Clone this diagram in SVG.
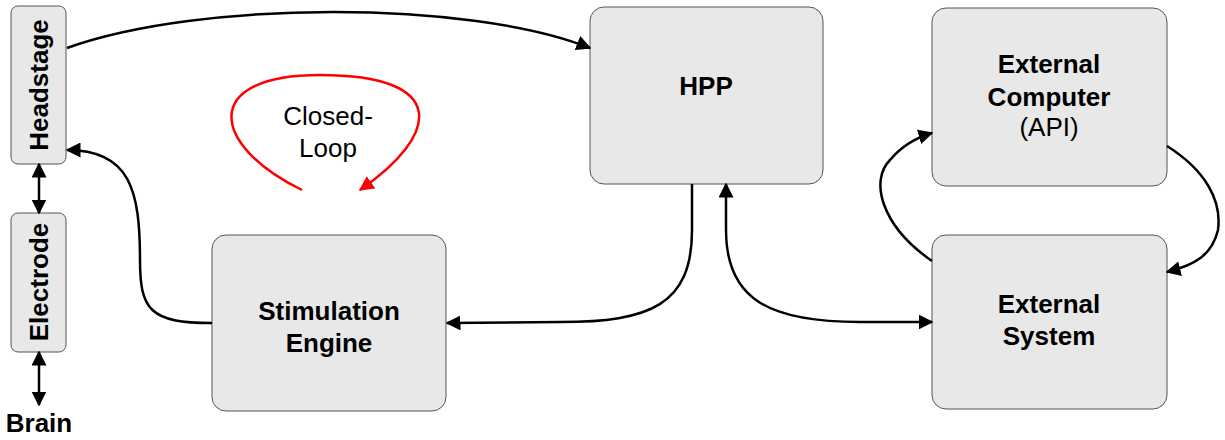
<svg xmlns="http://www.w3.org/2000/svg" width="1225" height="440" viewBox="0 0 1225 440">
<style>
.box{fill:#e8e8e8;stroke:#555;stroke-width:1}
.b{font-family:"Liberation Sans",Arial,sans-serif;font-weight:bold;font-size:26px;fill:#000;text-anchor:middle}
.n{font-family:"Liberation Sans",Arial,sans-serif;font-size:26px;fill:#000;text-anchor:middle}
.c{fill:none;stroke:#000;stroke-width:2.5}
.r{fill:none;stroke:#f00;stroke-width:2.5}
</style>
<defs>
<marker id="a" viewBox="0 0 10 10" refX="9" refY="5" markerWidth="6" markerHeight="6" markerUnits="strokeWidth" orient="auto-start-reverse"><path d="M0,0 L10,5 L0,10 z" fill="#000"/></marker>
<marker id="ar" viewBox="0 0 10 10" refX="9" refY="5" markerWidth="6" markerHeight="6" markerUnits="strokeWidth" orient="auto"><path d="M0,0 L10,5 L0,10 z" fill="#f00"/></marker>
</defs>
<g id="headstage"><rect class="box" x="11" y="6" width="55" height="158" rx="7"/><text class="b" transform="translate(48,85) rotate(-90)">Headstage</text></g>
<g id="electrode"><rect class="box" x="11" y="213" width="55" height="139" rx="7"/><text class="b" transform="translate(48,282) rotate(-90)">Electrode</text></g>
<g id="brain"><text class="b" x="39" y="432">Brain</text></g>
<g id="hpp"><rect class="box" x="590" y="7" width="233" height="177" rx="14"/><text class="b" x="706" y="95">HPP</text></g>
<g id="extcomp"><rect class="box" x="932" y="8" width="235" height="178" rx="14"/><text class="b" x="1049" y="73">External</text><text class="b" x="1049" y="106">Computer</text><text class="n" x="1049" y="136">(API)</text></g>
<g id="extsys"><rect class="box" x="932" y="235" width="235" height="174" rx="14"/><text class="b" x="1049" y="313">External</text><text class="b" x="1049" y="345">System</text></g>
<g id="stim"><rect class="box" x="212" y="235" width="234" height="176" rx="14"/><text class="b" x="329" y="320">Stimulation</text><text class="b" x="329" y="352">Engine</text></g>
<g id="closedloop"><text class="n" x="328" y="125">Closed-</text><text class="n" x="328" y="157">Loop</text></g>
<g id="connectors">
<path class="c" d="M67,48 C200,0 470,0 590,48" marker-end="url(#a)"/>
<path class="c" d="M212,323 C150,323 140,310 140,260 C140,190 130,150 67,150" marker-end="url(#a)"/>
<path class="c" d="M692,184 L692,230 C692,305 650,322 560,322 L447,323" marker-end="url(#a)"/>
<path class="c" d="M932,322 L860,322 C770,322 726,300 726,230 L726,184" marker-start="url(#a)" marker-end="url(#a)"/>
<path class="c" d="M932,261 C880,225 870,180 890,160 C900,148 915,138 932,133" marker-end="url(#a)"/>
<path class="c" d="M1167,146 C1205,170 1222,200 1218,230 C1212,255 1195,265 1167,272" marker-end="url(#a)"/>
<path class="c" d="M39,164 L39,213" marker-start="url(#a)" marker-end="url(#a)"/>
<path class="c" d="M39,352 L39,405" marker-start="url(#a)" marker-end="url(#a)"/>
<path class="r" d="M302,190 C210,145 200,75 320,75 C450,75 440,135 360,190" marker-end="url(#ar)"/>
</g>
</svg>
